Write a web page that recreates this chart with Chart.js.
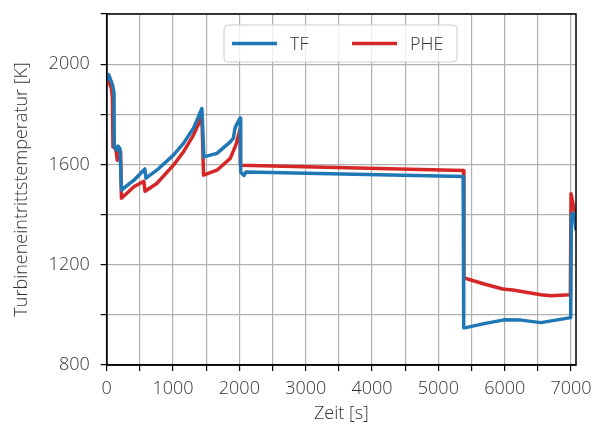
<!DOCTYPE html>
<html>
<head>
<meta charset="utf-8">
<script src="https://cdn.jsdelivr.net/npm/chart.js@4"></script>
<style>
  html, body { margin: 0; padding: 0; background: #fff; }
  #wrap { width: 595px; height: 431px; }
</style>
</head>
<body>
<div id="wrap"><canvas id="chart" width="595" height="431"></canvas></div>
<script>
// zeitachsen und werte
const tfTime = [0, 30, 90, 110, 114, 150, 170, 200, 222, 410, 575, 592, 755, 1006, 1157, 1308, 1435, 1465, 1662, 1863, 1910, 1935, 1960, 2012, 2020, 2070, 2100, 5375, 5382, 5415, 5690, 5990, 6245, 6545, 6770, 6995, 7005, 7040, 7075];
const tfValues = [1935, 1958, 1915, 1885, 1670, 1657, 1673, 1663, 1498, 1537, 1582, 1545, 1577, 1637, 1684, 1744, 1823, 1630, 1644, 1690, 1705, 1745, 1760, 1785, 1569, 1556, 1570, 1552, 949, 949, 965, 980, 979, 969, 979, 989, 1400, 1405, 1337];

const pheTime = [0, 20, 70, 85, 95, 135, 160, 185, 210, 222, 410, 560, 578, 755, 1006, 1157, 1308, 1435, 1460, 1662, 1863, 1950, 2010, 2015, 5380, 5385, 5440, 5690, 5970, 6120, 6345, 6545, 6700, 6990, 7000, 7050, 7075];
const pheValues = [1928, 1936, 1903, 1870, 1670, 1664, 1617, 1657, 1650, 1465, 1511, 1533, 1493, 1524, 1597, 1650, 1717, 1790, 1557, 1577, 1624, 1680, 1740, 1597, 1576, 1149, 1143, 1123, 1103, 1099, 1089, 1080, 1076, 1080, 1483, 1418, 1410];

const seriesLabels = ['TF', 'PHE'];
const seriesColors = ['#1f77b4', '#d62728'];

// achsen: ticks alle 500 s bzw. 200 K, beschriftet alle 1000 s bzw. 400 K
const xTicks = [0, 500, 1000, 1500, 2000, 2500, 3000, 3500, 4000, 4500, 5000, 5500, 6000, 6500, 7000];
const yTicks = [800, 1000, 1200, 1400, 1600, 1800, 2000, 2200];
const xMin = 0, xMax = 7075;
const yMin = 800, yMax = 2200;

const fontFamily = '"Open Sans", "DejaVu Sans", sans-serif';
const fontWeight = 300;
const textColor = '#333333';

function toPoints(xs, ys) {
    return xs.map((x, i) => ({ x: x, y: ys[i] }));
}

// rahmen und legende
const framePlugin = {
    id: 'frame',
    afterDraw(chart) {
        const ctx = chart.ctx;
        const a = chart.chartArea;
        ctx.save();
        ctx.strokeStyle = '#000';
        ctx.lineWidth = 1.5;
        ctx.strokeRect(a.left, a.top, a.right - a.left, a.bottom - a.top);

        // legende
        const bx = 224, by = 25, bw = 233, bh = 37, r = 4;
        ctx.beginPath();
        ctx.moveTo(bx + r, by);
        ctx.arcTo(bx + bw, by, bx + bw, by + bh, r);
        ctx.arcTo(bx + bw, by + bh, bx, by + bh, r);
        ctx.arcTo(bx, by + bh, bx, by, r);
        ctx.arcTo(bx, by, bx + bw, by, r);
        ctx.closePath();
        ctx.fillStyle = 'rgba(255,255,255,0.8)';
        ctx.fill();
        ctx.strokeStyle = '#cccccc';
        ctx.lineWidth = 1;
        ctx.stroke();

        const ly = by + bh / 2;
        const entries = [[232, 290], [352, 410]];
        chart.data.datasets.forEach((ds, i) => {
            const [lx, tx] = entries[i];
            ctx.strokeStyle = ds.borderColor;
            ctx.lineWidth = 3.5;
            ctx.beginPath();
            ctx.moveTo(lx, ly);
            ctx.lineTo(lx + 45, ly);
            ctx.stroke();
            ctx.fillStyle = textColor;
            ctx.font = fontWeight + ' 18px ' + fontFamily;
            ctx.textAlign = 'left';
            ctx.textBaseline = 'middle';
            ctx.fillText(ds.label, tx, ly + 1);
        });
        ctx.restore();
    }
};

const gridStyle = { color: '#b0b0b0', lineWidth: 1.2, tickColor: '#000', tickLength: 6, tickWidth: 1.2 };
const tickFont = { family: fontFamily, size: 18, weight: fontWeight };

const ctx = document.getElementById('chart').getContext('2d');
const chart = new Chart(ctx, {
    type: 'line',
    data: {
        datasets: [
            { label: seriesLabels[0], data: toPoints(tfTime, tfValues), borderColor: seriesColors[0], backgroundColor: seriesColors[0] },
            { label: seriesLabels[1], data: toPoints(pheTime, pheValues), borderColor: seriesColors[1], backgroundColor: seriesColors[1] },
        ],
    },
    options: {
        responsive: false,
        animation: false,
        devicePixelRatio: 1,
        layout: { padding: { top: 14, right: 19, left: 0, bottom: 0 } },
        elements: {
            line: { borderWidth: 3.5, tension: 0, borderJoinStyle: 'round', borderCapStyle: 'butt' },
            point: { radius: 0 },
        },
        plugins: {
            legend: { display: false },
            tooltip: { enabled: false },
        },
        scales: {
            x: {
                type: 'linear',
                min: xMin,
                max: xMax,
                afterBuildTicks(scale) {
                    scale.ticks = xTicks.map(v => ({ value: v }));
                },
                afterFit(scale) {
                    scale.height = 66;
                    scale.paddingLeft = 0;
                    scale.paddingRight = 0;
                },
                ticks: {
                    autoSkip: false,
                    maxRotation: 0,
                    padding: 7,
                    color: textColor,
                    font: tickFont,
                    callback: v => (v % 1000 === 0 ? String(v) : ''),
                },
                grid: gridStyle,
                border: { display: true, color: '#000', width: 1.5 },
                title: { display: true, text: 'Zeit [s]', color: textColor, font: tickFont, padding: { top: 0, bottom: 6 } },
            },
            y: {
                type: 'linear',
                min: yMin,
                max: yMax,
                afterBuildTicks(scale) {
                    scale.ticks = yTicks.map(v => ({ value: v }));
                },
                afterFit(scale) {
                    scale.width = 106.7;
                    scale.paddingTop = 0;
                    scale.paddingBottom = 0;
                },
                ticks: {
                    autoSkip: false,
                    padding: 11,
                    color: textColor,
                    font: tickFont,
                    callback: v => (v % 400 === 0 ? String(v) : ''),
                },
                grid: gridStyle,
                border: { display: true, color: '#000', width: 1.5 },
                title: { display: true, text: 'Turbineneintrittstemperatur [K]', color: textColor, font: tickFont, padding: { top: 11, bottom: 0 } },
            },
        },
    },
    plugins: [framePlugin],
});
</script>
</body>
</html>
